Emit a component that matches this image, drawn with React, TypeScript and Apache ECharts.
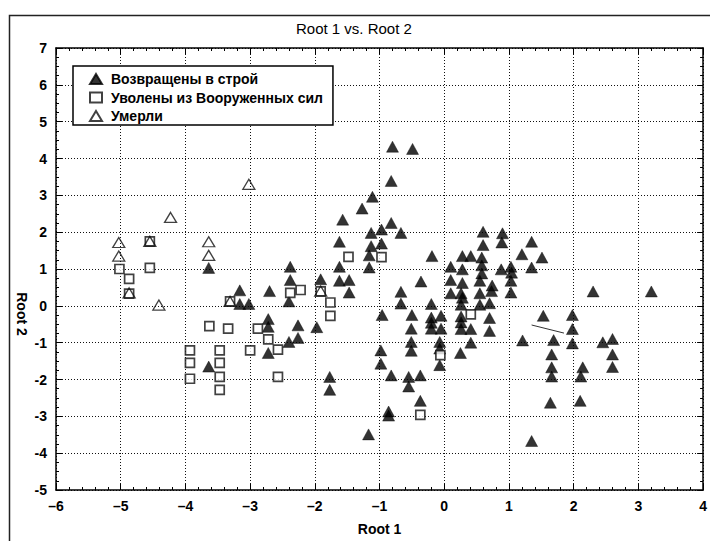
import React, { useEffect, useRef } from "react";
import * as echarts from "echarts";

const titleText = "Root 1 vs. Root 2";
const xName = "Root 1";
const yName = "Root 2";
const xTicks = [-6, -5, -4, -3, -2, -1, 0, 1, 2, 3, 4];
const yTicks = [-5, -4, -3, -2, -1, 0, 1, 2, 3, 4, 5, 6, 7];

const seriesNames = ["Возвращены в строй", "Уволены из Вооруженных сил", "Умерли"];

const returned: [number, number][] = [
  [-3.64, 1.03], [-3.16, 0.42], [-3.16, 0.05], [-3.02, 0.05], [-2.7, 0.4], [-2.38, 1.06], [-2.38, 0.7],
  [-2.4, 0.12], [-3.64, -1.65], [-2.72, -0.36], [-2.72, -0.57], [-2.72, -1.28], [-2.4, -0.98], [-2.26, -0.53],
  [-2.26, -0.87], [-1.97, -0.58], [-1.91, 0.72], [-1.62, 1.74], [-1.62, 1.06], [-1.62, 0.68], [-1.47, 0.7],
  [-1.47, 0.36], [-1.57, 2.34], [-1.27, 2.64], [-1.11, 2.96], [-0.8, 4.32], [-0.49, 4.26], [-0.82, 3.39],
  [-0.82, 2.25], [-0.67, 1.98], [-1.13, 1.98], [-0.97, 2.07], [-1.13, 1.62], [-0.97, 1.69], [-1.16, 1.37],
  [-1.16, 1.04], [-0.19, 1.35], [-0.36, 0.66], [-0.67, 0.38], [-0.67, 0.06], [-0.2, 0.05], [-1.77, -1.93],
  [-1.77, -2.28], [-0.96, -0.25], [-0.5, -0.25], [-0.51, -0.62], [-0.51, -0.98], [-0.51, -1.22], [-0.98, -1.21],
  [-0.98, -1.57], [-0.82, -1.89], [-0.55, -1.93], [-0.55, -2.19], [-0.37, -1.89], [-0.37, -2.58], [-0.86, -2.87],
  [-0.86, -2.98], [-1.17, -3.49],
  [-0.2, -0.32], [-0.2, -0.46], [-0.2, -0.62], [-0.05, -0.27], [-0.05, -0.62], [-0.07, -0.98], [-0.07, -1.16],
  [-0.07, -1.61], [0.1, 1.06], [0.1, 0.7], [0.1, 0.34], [0.28, 1.35], [0.41, 1.35], [0.28, 0.99], [0.28, 0.62],
  [0.26, 0.34], [0.28, 0.22], [0.26, 0.03], [0.6, 2.01], [0.6, 1.65], [0.58, 1.31], [0.58, 1.1], [0.58, 0.88],
  [0.55, 0.68], [0.55, 0.34], [0.55, 0.03], [0.7, 0.07], [0.74, 0.55], [0.73, 0.4], [0.9, 1.97], [0.89, 1.72],
  [0.88, 0.99], [1.03, 1.06], [1.04, 0.9], [1.03, 0.68], [1.03, 0.36], [1.2, 1.4], [1.35, 1.74], [1.51, 1.31],
  [1.35, 1.04], [0.26, -0.29], [0.26, -0.45], [0.26, -0.63], [0.41, -0.63], [0.7, -0.33], [0.7, -0.68],
  [0.41, -1.0], [0.25, -1.28], [1.21, -0.94], [1.53, -0.27], [1.69, -0.93], [1.66, -1.32], [1.66, -1.67],
  [1.66, -1.92], [1.64, -2.63], [1.35, -3.67], [1.98, -0.25], [1.98, -0.63], [1.98, -1.02], [2.3, 0.39],
  [3.2, 0.39], [2.14, -1.67], [2.11, -1.92], [2.1, -2.58], [2.45, -0.99], [2.6, -0.9], [2.6, -1.32], [2.6, -1.66],
];

const discharged: [number, number][] = [
  [-5.02, 1.0], [-4.87, 0.73], [-4.87, 0.33], [-4.55, 1.75], [-4.55, 1.03], [-3.31, 0.12], [-2.38, 0.35],
  [-2.22, 0.43], [-1.48, 1.33], [-0.97, 1.32], [-1.91, 0.39], [-1.76, 0.09], [-1.76, -0.27], [-3.63, -0.55],
  [-3.34, -0.62], [-2.88, -0.62], [-2.72, -0.91], [-2.57, -1.19], [-3.93, -1.21], [-3.93, -1.55], [-3.93, -1.98],
  [-3.47, -1.21], [-3.47, -1.55], [-3.47, -1.93], [-3.47, -2.28], [-3.0, -1.21], [-2.57, -1.93], [-0.37, -2.96],
  [-0.06, -1.34], [0.41, -0.23],
];

const died: [number, number][] = [
  [-3.02, 3.3], [-4.23, 2.4], [-5.03, 1.72], [-5.03, 1.35], [-4.87, 0.35], [-4.55, 1.75], [-4.41, 0.02],
  [-3.64, 1.74], [-3.64, 1.37], [-3.31, 0.12], [-1.91, 0.4],
];

const segment: [number, number][] = [[1.35, -0.52], [1.85, -0.74]];

const FONT = "'Liberation Sans', Arial, sans-serif";

export default function App() {
  const ref = useRef<HTMLDivElement>(null);
  useEffect(() => {
    if (!ref.current) return;
    const chart = echarts.init(ref.current, undefined, { renderer: "svg" });
    const baseAxis = {
      type: "value" as const,
      axisLine: { show: true, onZero: false, lineStyle: { color: "#000", width: 1.5 } },
      axisTick: { show: true, inside: true, length: 6, lineStyle: { color: "#000" } },
      minorTick: { show: true, length: 3, lineStyle: { color: "#000" } },
    };
    const xMin = xTicks[0];
    const xMax = xTicks[xTicks.length - 1];
    const yMin = yTicks[0];
    const yMax = yTicks[yTicks.length - 1];
    chart.setOption({
      animation: false,
      backgroundColor: "#fff",
      title: {
        text: titleText,
        left: 296,
        top: 21,
        padding: 0,
        textStyle: { fontFamily: FONT, fontSize: 15, fontWeight: "normal", color: "#000" },
      },
      grid: { left: 56, right: 2, top: 48, bottom: 51, containLabel: false },
      legend: {
        data: seriesNames,
        orient: "vertical",
        left: 73,
        top: 66,
        padding: [6, 10, 2, 16],
        itemGap: 4.5,
        itemWidth: 12,
        itemHeight: 10,
        backgroundColor: "#fff",
        borderColor: "#000",
        borderWidth: 1.5,
        borderRadius: 0,
        textStyle: { fontFamily: FONT, fontSize: 14, fontWeight: "bold", color: "#000", lineHeight: 14, padding: [0, 0, 0, 4] },
      },
      xAxis: [
        {
          ...baseAxis,
          position: "bottom",
          min: xMin,
          max: xMax,
          interval: 1,
          minorTick: { ...baseAxis.minorTick, splitNumber: 5 },
          splitLine: { show: true, lineStyle: { color: "#111", type: [1, 2], width: 1 } },
          axisLabel: {
            show: true,
            margin: 9,
            fontFamily: FONT,
            fontSize: 14,
            fontWeight: "bold",
            color: "#000",
            formatter: (v: number) => String(v).replace("-", "–"),
          },
          name: xName,
          nameLocation: "middle",
          nameGap: 32,
          nameTextStyle: { fontFamily: FONT, fontSize: 14, fontWeight: "bold", color: "#000" },
        },
        {
          ...baseAxis,
          position: "top",
          min: xMin,
          max: xMax,
          interval: 1,
          minorTick: { ...baseAxis.minorTick, splitNumber: 5 },
          splitLine: { show: false },
          axisLabel: { show: false },
        },
      ],
      yAxis: [
        {
          ...baseAxis,
          position: "left",
          min: yMin,
          max: yMax,
          interval: 1,
          minorTick: { ...baseAxis.minorTick, splitNumber: 4 },
          splitLine: { show: true, lineStyle: { color: "#111", type: [1, 2], width: 1 } },
          axisLabel: { show: true, margin: 9, fontFamily: FONT, fontSize: 14, fontWeight: "bold", color: "#000" },
        },
        {
          ...baseAxis,
          position: "right",
          min: yMin,
          max: yMax,
          interval: 1,
          minorTick: { ...baseAxis.minorTick, splitNumber: 4 },
          splitLine: { show: false },
          axisLabel: { show: false },
        },
      ],
      graphic: [
        {
          type: "rect",
          left: 7,
          top: 13,
          shape: { width: 760, height: 600 },
          style: { fill: "none", stroke: "#222", lineWidth: 1.5 },
          silent: true,
          z: 100,
        },
        {
          type: "text",
          x: 22,
          y: 314,
          rotation: -Math.PI / 2,
          style: {
            text: yName,
            fontFamily: FONT,
            fontSize: 14,
            fontWeight: "bold",
            fill: "#000",
            align: "center",
            verticalAlign: "middle",
          },
        },
      ],
      series: [
        {
          name: seriesNames[0],
          type: "scatter",
          data: returned,
          symbol: "triangle",
          symbolSize: [12, 11],
          itemStyle: { color: "#000", borderColor: "#000", borderWidth: 0.5 },
          z: 3,
        },
        {
          name: seriesNames[1],
          type: "scatter",
          data: discharged,
          symbol: "rect",
          symbolSize: 9,
          itemStyle: { color: "#fff", borderColor: "#111", borderWidth: 1.7 },
          z: 4,
        },
        {
          name: seriesNames[2],
          type: "scatter",
          data: died,
          symbol: "triangle",
          symbolSize: [12, 10],
          itemStyle: { color: "rgba(255,255,255,0)", borderColor: "#111", borderWidth: 1.3 },
          z: 5,
        },
        {
          name: "segment",
          type: "line",
          data: segment,
          symbol: "none",
          lineStyle: { color: "#333", width: 1 },
          z: 3,
        },
      ],
    });
    return () => chart.dispose();
  }, []);
  return <div ref={ref} style={{ position: "absolute", left: 0, top: 0, width: 710, height: 541 }} />;
}
